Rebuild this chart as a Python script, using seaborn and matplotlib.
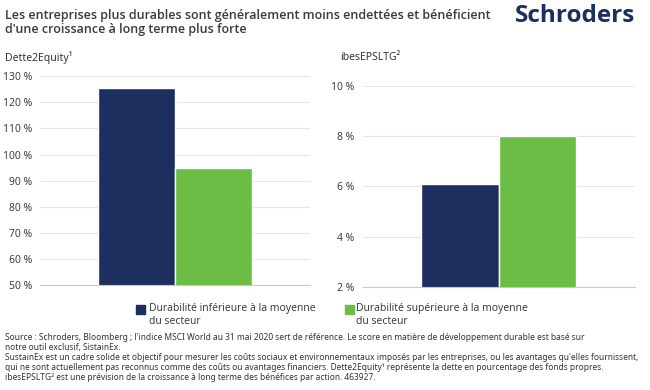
import pandas as pd
import matplotlib.pyplot as plt
import seaborn as sns

# Data
groups = ["Durabilité inférieure à la moyenne\ndu secteur",
          "Durabilité supérieure à la moyenne\ndu secteur"]
dette_values = [125.3, 95.0]      # Dette2Equity, %
eps_values = [6.1, 8.0]           # ibesEPSLTG, %
left_ticks = [50, 60, 70, 80, 90, 100, 110, 120, 130]
right_ticks = [2, 4, 6, 8, 10]

navy = "#1d2f5e"
green = "#6cbd45"
text_col = "#333333"
palette = [navy, green]

sns.set_theme(style="white")
plt.rcParams['font.family'] = ['Open Sans', 'DejaVu Sans']
sup_fonts = ['Noto Sans', 'DejaVu Sans']   # has ¹ and ² glyphs

df_left = pd.DataFrame({"metric": ["Dette2Equity"] * 2, "group": groups, "value": dette_values})
df_right = pd.DataFrame({"metric": ["ibesEPSLTG"] * 2, "group": groups, "value": eps_values})

fig = plt.figure(figsize=(6.5, 3.9), dpi=100)
ax1 = fig.add_axes([0.062, 0.268, 0.415, 0.537])
ax2 = fig.add_axes([0.558, 0.265, 0.419, 0.514])

for ax, df, ticks in [(ax1, df_left, left_ticks), (ax2, df_right, right_ticks)]:
    sns.barplot(data=df, x="metric", y="value", hue="group", palette=palette,
                width=0.57, saturation=1, ax=ax, legend=False)
    ax.set_ylim(ticks[0], ticks[-1])
    ax.set_yticks(ticks)
    ax.set_yticklabels([f"{t} %" for t in ticks], fontsize=7.5, color=text_col)
    ax.set_xticks([])
    ax.set_xlabel("")
    ax.set_ylabel("")
    ax.grid(axis="y", color="#e6e6e6", linewidth=0.8)
    ax.set_axisbelow(True)
    for s in ["top", "right", "left"]:
        ax.spines[s].set_visible(False)
    ax.spines["bottom"].set_color("#c8c8c8")
    ax.spines["bottom"].set_linewidth(0.8)
    ax.tick_params(axis="y", length=0, pad=6)

# Titles and headers
fig.text(0.008, 0.978, "Les entreprises plus durables sont généralement moins endettées et bénéficient\nd'une croissance à long terme plus forte",
         fontsize=9, fontweight="semibold", color="#3a3a3a", va="top", linespacing=1.15)
fig.text(0.977, 0.99, "Schroders", fontsize=17.5, fontweight="bold", color="#1d2f5e",
         ha="right", va="top")
fig.text(0.008, 0.852, "Dette2Equity¹", fontsize=7.5, color=text_col, va="center", family=sup_fonts)
fig.text(0.523, 0.852, "ibesEPSLTG²", fontsize=7.5, color=text_col, va="center", family=sup_fonts)

# Legend (square aligned with the first line of each label)
for col, label, xs, xt in zip(palette, groups, [0.209, 0.531], [0.229, 0.548]):
    fig.add_artist(plt.Rectangle((xs, 0.195), 0.0138, 0.023, color=col,
                                 transform=fig.transFigure))
    fig.text(xt, 0.222, label, fontsize=7.5, color=text_col, va="top", linespacing=1.2)

footnote = ("Source : Schroders, Bloomberg ; l'indice MSCI World au 31 mai 2020 sert de référence. Le score en matière de développement durable est basé sur\n"
            "notre outil exclusif, SistainEx.\n"
            "SustainEx est un cadre solide et objectif pour mesurer les coûts sociaux et environnementaux imposés par les entreprises, ou les avantages qu'elles fournissent,\n"
            "qui ne sont actuellement pas reconnus comme des coûts ou avantages financiers. Dette2Equity¹ représente la dette en pourcentage des fonds propres.\n"
            "ibesEPSLTG² est une prévision de la croissance à long terme des bénéfices par action. 463927.")
fig.text(0.008, 0.145, footnote, fontsize=6.05, color=text_col, va="top", linespacing=1.12,
         family=sup_fonts)

fig.savefig("out.png", dpi=100)
